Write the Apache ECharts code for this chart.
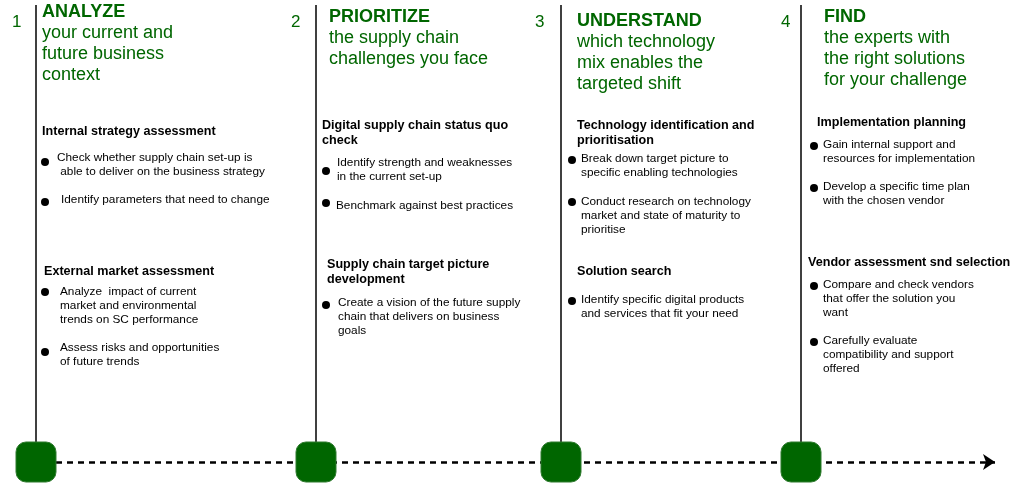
<!DOCTYPE html><html><head><meta charset="utf-8"><script src="https://cdn.jsdelivr.net/npm/echarts@6/dist/echarts.min.js"></script>
<style>html,body{margin:0;padding:0;background:#fff}#c{width:1026px;height:484px}</style></head><body><div id="c"></div><script>
const stepX=[36,316,561,801];
const stepNums=['1','2','3','4'];
const titles=[
 {x:42,y:12,bold:'ANALYZE',lines:['your current and','future business','context']},
 {x:329,y:17,bold:'PRIORITIZE',lines:['the supply chain','challenges you face']},
 {x:577,y:21,bold:'UNDERSTAND',lines:['which technology','mix enables the','targeted shift']},
 {x:824,y:17,bold:'FIND',lines:['the experts with','the right solutions','for your challenge']}
];
const headings=[
 [42,132,['Internal strategy assessment']],[44,272,['External market assessment']],
 [322,126,['Digital supply chain status quo','check']],[327,265,['Supply chain target picture','development']],
 [577,126,['Technology identification and','prioritisation']],[577,272,['Solution search']],
 [817,123,['Implementation planning']],[808,263,['Vendor assessment snd selection']]
];
const bullets=[
 [45,162,57,158,['Check whether supply chain set-up is',' able to deliver on the business strategy']],
 [45,202,61,200,['Identify parameters that need to change']],
 [45,292,60,292,['Analyze  impact of current','market and environmental','trends on SC performance']],
 [45,352,60,348,['Assess risks and opportunities','of future trends']],
 [326,171,337,163,['Identify strength and weaknesses','in the current set-up']],
 [326,203,336,206,['Benchmark against best practices']],
 [326,305,338,303,['Create a vision of the future supply','chain that delivers on business','goals']],
 [572,160,581,159,['Break down target picture to','specific enabling technologies']],
 [572,202,581,202,['Conduct research on technology','market and state of maturity to','prioritise']],
 [572,301,581,300,['Identify specific digital products','and services that fit your need']],
 [814,146,823,145,['Gain internal support and','resources for implementation']],
 [814,188,823,187,['Develop a specific time plan','with the chosen vendor']],
 [814,286,823,285,['Compare and check vendors','that offer the solution you','want']],
 [814,342,823,341,['Carefully evaluate','compatibility and support','offered']]
];
const F='"Liberation Sans", Arial, sans-serif', G='#006600';
const gr=[];
stepX.forEach((x,i)=>gr.push({type:'text',x:[12,291,535,781][i],y:22,style:{text:stepNums[i],font:'17px '+F,fill:G,textVerticalAlign:'middle'}}));
titles.forEach(t=>{gr.push({type:'text',x:t.x,y:t.y,style:{text:t.bold,font:'bold 18px '+F,fill:G,textVerticalAlign:'middle'}});
 t.lines.forEach((l,j)=>gr.push({type:'text',x:t.x,y:t.y+21*(j+1),style:{text:l,font:'18px '+F,fill:G,textVerticalAlign:'middle'}}));});
headings.forEach(h=>h[2].forEach((l,j)=>gr.push({type:'text',x:h[0],y:h[1]+15*j,style:{text:l,font:'bold 12.6px '+F,fill:'#000',textVerticalAlign:'middle'}})));
bullets.forEach(b=>b[4].forEach((l,j)=>gr.push({type:'text',x:b[2],y:b[3]+14*j,style:{text:l,font:'11.8px '+F,fill:'#000',textVerticalAlign:'middle'}})));
const ch=echarts.init(document.getElementById('c'));
ch.setOption({animation:false,
 grid:{left:0,right:0,top:0,bottom:0},
 xAxis:{type:'value',min:0,max:1026,show:false},
 yAxis:{type:'value',min:0,max:484,inverse:true,show:false},
 graphic:gr,
 series:[
  {type:'lines',coordinateSystem:'cartesian2d',silent:true,lineStyle:{color:'#000',width:1.5,opacity:1},
   data:stepX.map(x=>({coords:[[x,5],[x,442]]}))},
  {type:'lines',coordinateSystem:'cartesian2d',silent:true,symbol:['none','arrow'],symbolSize:12,
   lineStyle:{color:'#000',width:2.5,type:[6,5],opacity:1},data:[{coords:[[56,462],[995,462]]}]},
  {type:'scatter',symbol:'roundRect',symbolSize:40,itemStyle:{color:G,opacity:1,borderColor:'#2f7a2f',borderWidth:1},
   data:stepX.map(x=>[x,462]),z:5},
  {type:'scatter',symbol:'circle',symbolSize:8,itemStyle:{color:'#000',opacity:1},data:bullets.map(b=>[b[0],b[1]])}
 ]});
</script></body></html>
